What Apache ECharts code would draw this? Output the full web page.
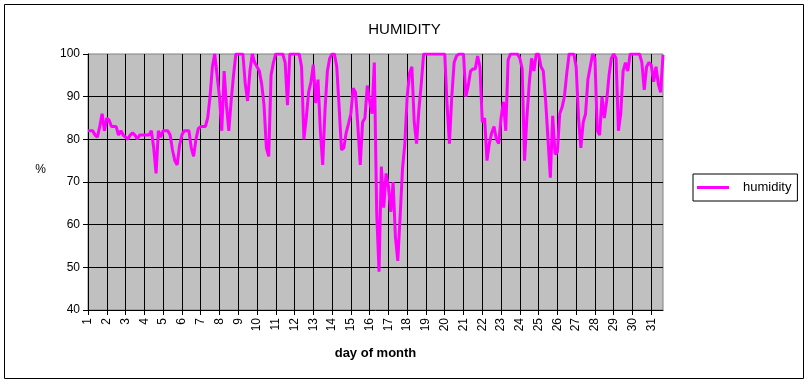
<!DOCTYPE html>
<html>
<head>
<meta charset="utf-8">
<script src="https://cdn.jsdelivr.net/npm/echarts@6/dist/echarts.min.js"></script>
<style>
html,body{margin:0;padding:0;background:#fff;}
#c{width:809px;height:384px;}
</style>
</head>
<body>
<div id="c"></div>
<script>
// Readings every 3 hours starting at day 1, 00:00
const startDay = 1;
const stepDays = 1 / 8;
const humidity = [
  82, 82, 82, 81, 80.5, 83, 86, 82, 85, 84.5,
  83, 83, 83, 81, 82, 81, 80.5, 80, 81, 81.5,
  81, 80, 81, 81, 81, 81, 81, 82, 78, 72,
  82, 80.5, 82, 82, 82, 81, 77.5, 75, 74, 78.5,
  81, 82, 82, 82, 78, 76, 80, 82.5, 83, 83,
  83, 85, 90, 97, 100, 95, 90, 82, 96, 88,
  82, 89, 95, 100, 100, 100, 100, 93, 89, 96,
  100, 98, 97, 96, 93, 88, 78, 76, 95, 98,
  100, 100, 100, 100, 98, 88, 100, 100, 100, 100,
  100, 97, 80, 85, 91, 93.5, 97.5, 88.5, 94, 82,
  74, 87, 96, 99, 100, 100, 97, 87.6, 77.5, 78,
  81.5, 83.7, 86, 92, 91, 83, 74, 84, 85, 92.6,
  89, 86, 98, 63, 49, 73.6, 64, 72, 69, 63,
  70, 57, 51.5, 62, 73, 79, 90, 95.5, 97, 84,
  79, 87, 93, 100, 100, 100, 100, 100, 100, 100,
  100, 100, 100, 88, 79, 90, 98, 99.5, 100, 100,
  100, 90, 92.5, 96, 96.5, 96.5, 99.5, 97, 84, 85,
  75, 79, 81.5, 83, 80, 79, 85, 88.8, 82, 98.6,
  100, 100, 100, 100, 99, 96.5, 75, 85, 93, 99,
  96, 100, 100, 97, 96, 89, 80, 71, 85.5, 76.5,
  77, 86, 87.5, 90, 95.5, 100, 100, 100, 97, 85,
  78, 84, 86, 94, 97, 100, 99, 82, 81, 90,
  85, 89, 95, 99, 100, 99, 82, 86, 96, 98,
  96, 100, 100, 100, 100, 100, 98, 91.6, 97, 98,
  97.4, 93.5, 97, 93, 91, 99.8
];
const title = 'HUMIDITY';
const seriesName = 'humidity';
const xName = 'day of month';
const yName = '%';
const yMin = 40, yMax = 100, yStep = 10;

const points = humidity.map((v, i) => [startDay + i * stepDays, v]);
const xMax = startDay + (humidity.length - 1) * stepDays;

const font = 'Liberation Sans, Arial, sans-serif';
const chart = echarts.init(document.getElementById('c'), null, {renderer: 'canvas'});
chart.setOption({
  animation: false,
  backgroundColor: '#ffffff',
  title: {
    text: title, left: 'center', top: 17,
    textStyle: {fontFamily: font, fontSize: 15, fontWeight: 'normal', color: '#000'}
  },
  legend: {
    orient: 'vertical', left: 693, top: 174,
    padding: [6, 6, 6, 4],
    borderColor: '#000', borderWidth: 1,
    itemWidth: 32, itemHeight: 3, icon: 'rect',
    textStyle: {fontFamily: font, fontSize: 13, color: '#000', padding: [0, 0, 0, 9], lineHeight: 15},
    data: [seriesName]
  },
  grid: {
    left: 88, right: 146, top: 54, bottom: 74,
    show: true, backgroundColor: '#C0C0C0', borderColor: '#808080', borderWidth: 1
  },
  xAxis: {
    type: 'value', min: startDay, max: xMax, interval: 1,
    name: xName, nameLocation: 'middle', nameGap: 37,
    nameTextStyle: {fontFamily: font, fontSize: 13, fontWeight: 'bold', color: '#000'},
    axisLine: {show: true, lineStyle: {color: '#000', width: 1}},
    axisTick: {show: true, inside: false, length: 5, lineStyle: {color: '#000'}},
    axisLabel: {
      rotate: 90, margin: 8, fontFamily: font, fontSize: 12, color: '#000',
      formatter: v => (Math.abs(v - Math.round(v)) < 1e-6 ? String(Math.round(v)) : ''),
      showMaxLabel: false
    },
    splitLine: {show: true, showMinLine: false, showMaxLine: false, lineStyle: {color: '#000', width: 1}}
  },
  yAxis: {
    type: 'value', min: yMin, max: yMax, interval: yStep,
    name: yName, nameLocation: 'middle', nameGap: 42, nameRotate: 0,
    nameTextStyle: {fontFamily: font, fontSize: 12, color: '#000', verticalAlign: 'bottom', lineHeight: 24},
    axisLine: {show: true, lineStyle: {color: '#000', width: 1}},
    axisTick: {show: true, inside: false, length: 5, lineStyle: {color: '#000'}},
    axisLabel: {margin: 8, fontFamily: font, fontSize: 12, color: '#000'},
    splitLine: {show: true, showMinLine: false, showMaxLine: false, lineStyle: {color: '#000', width: 1}}
  },
  series: [{
    name: seriesName, type: 'line', data: points,
    showSymbol: false, symbol: 'none',
    lineStyle: {color: '#FF00FF', width: 3},
    itemStyle: {color: '#FF00FF'}
  }],
  graphic: [{
    type: 'rect', silent: true, z: -1,
    shape: {x: 4.5, y: 4.5, width: 799, height: 374},
    style: {fill: null, stroke: '#000', lineWidth: 1}
  }]
});
</script>
</body>
</html>
